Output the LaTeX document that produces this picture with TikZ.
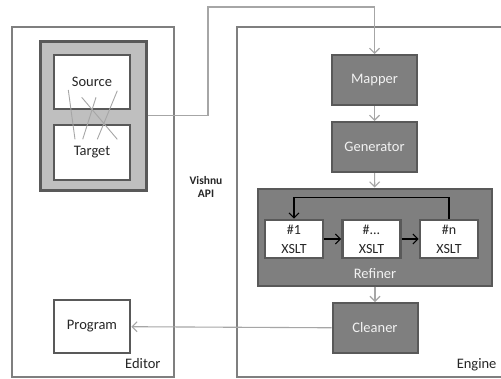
\documentclass[tikz,border=0pt]{standalone}
\usepackage{fontspec}
\setmainfont{Carlito}
\usetikzlibrary{arrows.meta}

\definecolor{frameGrey}{HTML}{7F7F7F}
\definecolor{edgeGrey}{HTML}{595959}
\definecolor{lightGrey}{HTML}{BFBFBF}
\definecolor{linkGrey}{HTML}{A6A6A6}
\definecolor{textDark}{HTML}{262626}

\begin{document}
\begin{tikzpicture}[x=1pt,y=-1pt]
\tikzset{
	part/.style={draw=frameGrey,
		line width=1.6pt,
		inner sep=0pt,
		minimum height=350pt,
	},
	holder/.style={draw=edgeGrey,
		fill=lightGrey,
		line width=3pt,
		minimum width=106pt,
		minimum height=149pt,
	},
	whitebox/.style={draw=edgeGrey,
		fill=white,
		line width=2.6pt,
		minimum width=76pt,
		text=textDark,
		font=\fontsize{14.5}{17}\selectfont,
	},
	darkbox/.style={draw=edgeGrey,
		fill=frameGrey,
		line width=2pt,
		minimum width=85pt,
		minimum height=50pt,
		text=white!95!black,
		font=\fontsize{14.5}{17}\selectfont,
	},
	xslt/.style={whitebox,
		minimum width=58pt,
		minimum height=38pt,
		align=center,
		font=\fontsize{14}{19}\selectfont,
	},
	link/.style={draw=linkGrey, line width=1.1pt, -{Straight Barb[length=5pt,width=10pt]}},
	flow/.style={draw=black, line width=1.1pt, -{Straight Barb[length=5pt,width=10pt]}},
	cross/.style={draw=linkGrey, line width=0.9pt},
}
\clip (0,0) rectangle (501,378);
\fill[white] (0,0) rectangle (501,378);

% editor side
\node[part, minimum width=162pt] (EDITOR) at (93,202) {};
\node[text=textDark, font=\fontsize{14.5}{17}\selectfont, anchor=east] (EDLBL) at (164,364) {Editor};
\node[holder] (MAPPING) at (93,115.5) {};
\node[whitebox, minimum height=54pt] (SOURCE) at (92,82) {Source};
\node[whitebox, minimum height=55pt] (TARGET) at (92,152.5) {Target};
\draw[cross] (68.3,90) -- (75,139.3);
\draw[cross] (96,97.3) -- (82.7,139.3);
\draw[cross] (81.7,97.3) -- (117.3,139.3);
\draw[cross] (117.3,90.7) -- (97.3,139.3);
\node[whitebox, minimum height=53pt] (PROGRAM) at (92,326.5) {Program};

% api
\node[font=\bfseries\fontsize{11.5}{13}\selectfont, text=textDark, align=center] (APILBL) at (206,186.5) {Vishnu\\API};

% engine side
\node[part, minimum width=290pt] (ENGINE) at (382,202) {};
\node[text=textDark, font=\fontsize{14.5}{17}\selectfont, anchor=east] (ENGLBL) at (500,365) {Engine};
\node[darkbox] (MAPPER) at (374.5,80) {Mapper};
\node[darkbox] (GENERATOR) at (374.5,147) {Generator};
\node[darkbox, minimum width=234pt, minimum height=97pt] (REFINER) at (375,237) {};
\node[text=white!95!black, font=\fontsize{14.5}{17}\selectfont] (REFLBL) at (375,274) {Refiner};
\node[xslt] (XSLTA) at (294,239) {\#1\\XSLT};
\node[xslt] (XSLTB) at (371.5,239) {\#...\\XSLT};
\node[xslt] (XSLTN) at (449,239) {\#n\\XSLT};
\node[darkbox] (CLEANER) at (375,328) {Cleaner};

% connectors
\coordinate (APIUP) at (208,7);
\coordinate (LOOPTOP) at (294,197.5);
{\draw[link] (MAPPING.east) -| (APIUP) -| (MAPPER.north);}
{\draw[link] (MAPPER) -- (GENERATOR);}
{\draw[link] (GENERATOR) -- (REFINER);}
{\draw[link] (REFINER) -- (CLEANER);}
{\draw[link] (CLEANER) -- (PROGRAM);}
{\draw[flow] (XSLTA) -- (XSLTB);}
{\draw[flow] (XSLTB) -- (XSLTN);}
{\draw[flow] (XSLTN.north) |- (LOOPTOP) -- (XSLTA.north);}

\end{tikzpicture}
\end{document}
